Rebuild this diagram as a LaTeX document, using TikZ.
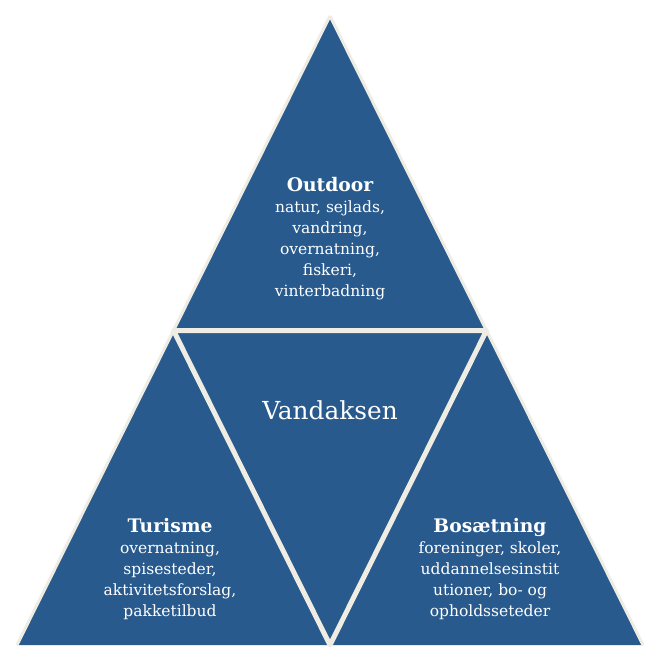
\documentclass[tikz,border=0pt]{standalone}
\usepackage{fontspec}
\setmainfont{DejaVu Serif}
\usepackage{tikz}
\usetikzlibrary{calc}

\definecolor{triblue}{HTML}{285A8E}
\definecolor{gapline}{HTML}{EEECE3}

\newcommand{\headfont}{\fontsize{18.7}{21}\selectfont\bfseries}

\tikzset{
  sidetext/.style={text=white, align=center, font=\fontsize{15.5}{21}\selectfont}
}

\begin{document}
\begin{tikzpicture}[x=1pt,y=-1pt]
			\def\apexx{330}
			\def\apexy{16}
			\def\basey{645}
			\def\halfbase{313}
			
			% Picture frame
			\useasboundingbox (0,0) rectangle (646,647);
			
			% Corners of the big triangle and of the middle one
			\coordinate (top) at (\apexx,\apexy);
			\coordinate (bl) at ({\apexx-\halfbase},\basey);
			\coordinate (br) at ({\apexx+\halfbase},\basey);
			\coordinate (ml) at ($(top)!0.5!(bl)$);
			\coordinate (mr) at ($(top)!0.5!(br)$);
			\coordinate (mb) at ($(bl)!0.5!(br)$);
			
			% Draw the triangles
			\fill[triblue] (top) -- (br) -- (bl) -- cycle;
			\draw[gapline, line width=3pt, line join=round] (top) -- (br) (bl) -- (top);
			\draw[gapline, line width=5pt, line join=round] (ml) -- (mr) -- (mb) -- cycle;
			
			% Texts in the four parts
			\node[sidetext] (outdoor) at (\apexx,239) {{\headfont Outdoor}\\natur, sejlads,\\vandring,\\overnatning,\\fiskeri,\\vinterbadning};
			\node[sidetext, font=\fontsize{24.8}{28}\selectfont] (vandaksen) at (\apexx,410) {Vandaksen};
			\node[sidetext] (turisme) at (170,569) {{\headfont Turisme}\\overnatning,\\spisesteder,\\aktivitetsforslag,\\pakketilbud};
			\node[sidetext] (bosaetning) at (490,569) {{\headfont Bosætning}\\foreninger, skoler,\\uddannelsesinstit\\utioner, bo- og\\opholdsseteder};
		\end{tikzpicture}
\end{document}
